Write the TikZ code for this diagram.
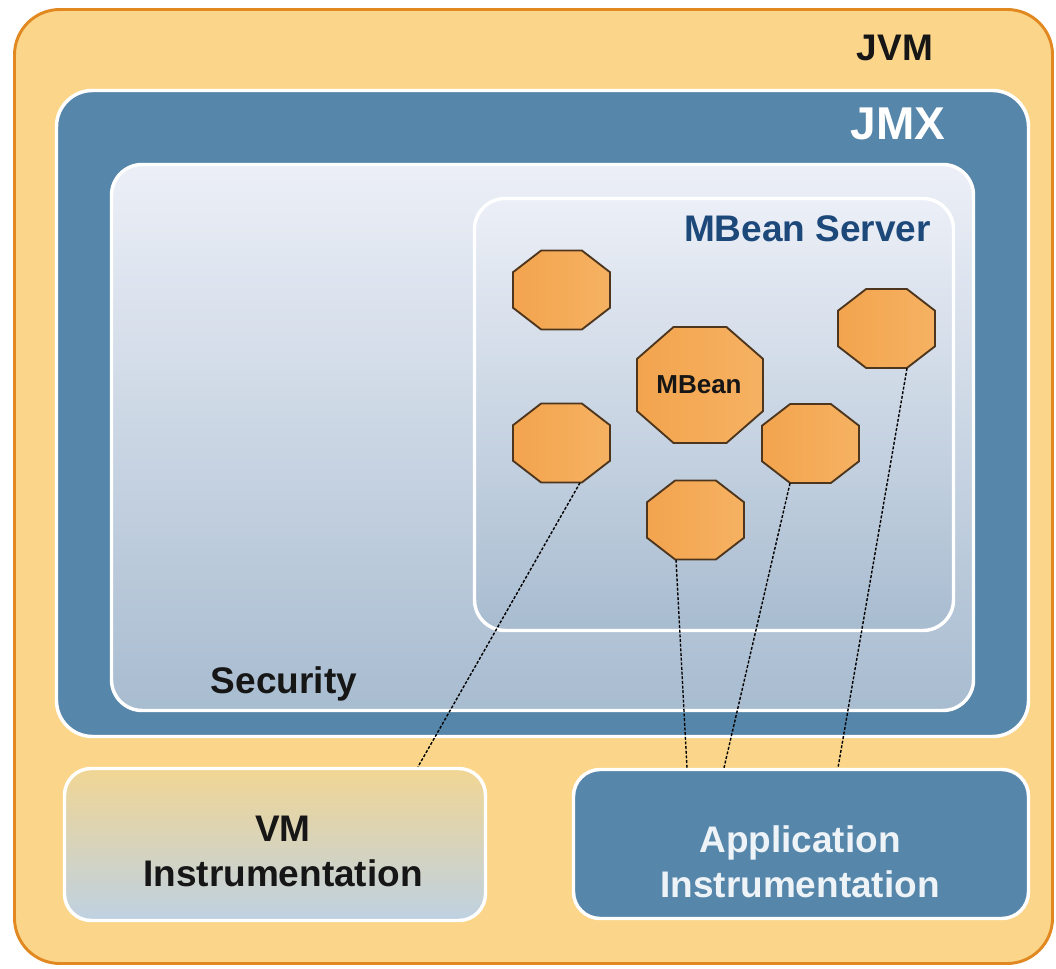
\documentclass[tikz,border=0pt]{standalone}
\usepackage{fontspec}
\setmainfont{Liberation Sans}
\usetikzlibrary{calc}

\definecolor{jvmfill}{RGB}{251,214,138}
\definecolor{jvmline}{RGB}{226,136,32}
\definecolor{jmxfill}{RGB}{86,134,170}
\definecolor{sectop}{RGB}{236,239,247}
\definecolor{secbot}{RGB}{168,188,208}
\definecolor{vmtop}{RGB}{241,214,148}
\definecolor{vmbot}{RGB}{190,209,226}
\definecolor{octA}{RGB}{243,164,78}
\definecolor{octB}{RGB}{249,198,128}
\definecolor{octline}{RGB}{78,54,30}
\definecolor{mbstext}{RGB}{28,72,122}
\definecolor{apptext}{RGB}{238,243,248}
\definecolor{darktext}{RGB}{22,22,22}

% Octagonal MBean: name, centre x, centre y, half width, half height, label
\newcommand\beanoct[6]{%
  \path[octshape] (#2-#4,#3-0.45*#5) -- (#2-#4,#3+0.45*#5)
    -- (#2-0.42*#4,#3+#5) -- (#2+0.42*#4,#3+#5)
    -- (#2+#4,#3+0.45*#5) -- (#2+#4,#3-0.45*#5)
    -- (#2+0.42*#4,#3-#5) -- (#2-0.42*#4,#3-#5) -- cycle;
  \node[beanlabel, minimum width=2*#4*0.75pt, minimum height=2*#5*0.75pt] (#1) at (#2,#3) {#6};
}

\begin{document}
\begin{tikzpicture}[x=0.75pt,y=-0.75pt,
  box/.style={shape=rectangle, inner sep=0pt, draw=white, line width=2.6pt},
  jvmbox/.style={box, fill=jvmfill, draw=jvmline, line width=2.2pt, rounded corners=34pt},
  jmxbox/.style={box, fill=jmxfill, rounded corners=27pt},
  secbox/.style={box, top color=sectop, bottom color=secbot, rounded corners=23pt},
  vmbox/.style={box, top color=vmtop, bottom color=vmbot, rounded corners=20pt},
  appbox/.style={box, fill=jmxfill, rounded corners=20pt},
  octshape/.style={draw=octline, line width=1.4pt, shading=axis,
    left color=octA, middle color=octB, right color=octA!60!octB},
  beanlabel/.style={shape=rectangle, inner sep=0pt, text=darktext,
    font=\bfseries\fontsize{19.5}{22}\selectfont},
  title/.style={anchor=base, inner sep=0pt, font=\bfseries\fontsize{27.75}{33.75}\selectfont},
  twoline/.style={align=center, inner sep=0pt, font=\bfseries\fontsize{27.75}{33.75}\selectfont},
  link/.style={draw=black, line width=1.05pt, dash pattern=on 2.2pt off 1.3pt}
]
\useasboundingbox (0,0) rectangle (1056,969);
\fill[white] (0,0) rectangle (1056,969);

% nested containers
\node[jvmbox, minimum width=1038*0.75pt, minimum height=954*0.75pt] (jvm) at (533.5,486.5) {};
\node[jmxbox, minimum width=972*0.75pt, minimum height=646*0.75pt] (jmx) at (542.5,413.5) {};
\node[secbox, minimum width=862*0.75pt, minimum height=546*0.75pt] (sec) at (542.5,437.5) {};
\node[secbox, minimum width=479*0.75pt, minimum height=432*0.75pt] (mbs) at (714,414.5) {};
\node[vmbox, minimum width=421*0.75pt, minimum height=152*0.75pt] (vm) at (275,844.5) {};
\node[appbox, minimum width=455*0.75pt, minimum height=149*0.75pt] (app) at (801,844) {};

% container titles
\node[title, text=darktext] (jvmlabel) at (895,61) {JVM};
\node[title, text=white, font=\bfseries\fontsize{34.5}{40}\selectfont] (jmxlabel) at (898,140) {JMX};
\node[title, text=mbstext] (mbslabel) at (807.5,242) {MBean Server};
\node[title, text=darktext] (seclabel) at (284,693) {Security};
\node[twoline, text=darktext] (vmlabel) at (283,851.5) {VM\\Instrumentation};
\node[twoline, text=apptext] (applabel) at (800,862) {Application\\Instrumentation};

% MBeans registered in the server
\beanoct{o1}{561.5}{290}{48.5}{39.5}{}
\beanoct{o3}{561.5}{443}{48.5}{39.5}{}
\beanoct{big}{700}{385}{63}{58}{}
\node[beanlabel, anchor=base] (biglabel) at (699,394) {MBean};
\beanoct{o4}{886.5}{328.5}{48.5}{39.5}{}
\beanoct{o5}{810.5}{443.5}{48.5}{39.5}{}
\beanoct{o6}{695.5}{520}{48.5}{39.5}{}

% instrumentation links
\draw[link] ($(o3.south)+(18.5,0)$) -- ($(vm.north)+(143,0)$);
\draw[link] ($(o6.south)+(-19.5,0)$) -- ($(app.north)+(-114,0)$);
\draw[link] ($(o5.south)+(-20.5,0)$) -- ($(app.north)+(-77,0)$);
\draw[link] ($(o4.south)+(20.5,0)$) -- ($(app.north)+(37,0)$);
\end{tikzpicture}
\end{document}
